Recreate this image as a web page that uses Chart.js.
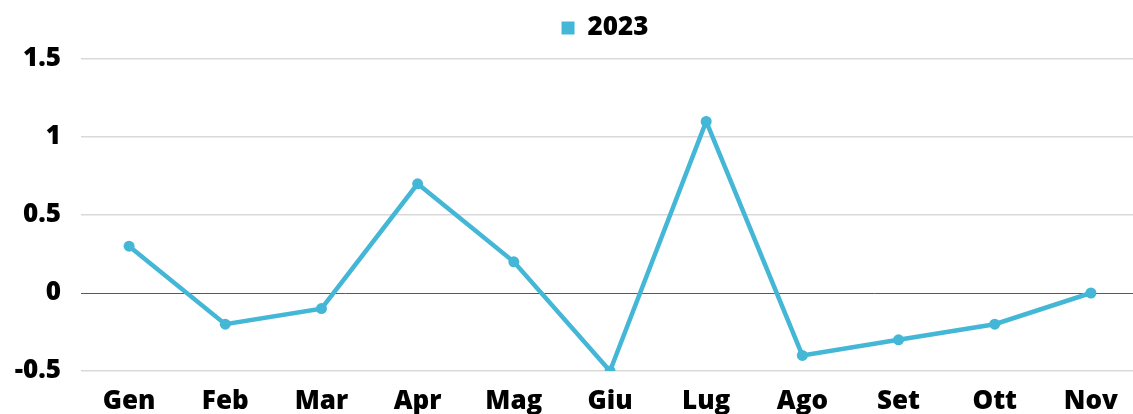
<!DOCTYPE html>
<html>
<head>
<meta charset="utf-8">
<script src="https://cdn.jsdelivr.net/npm/chart.js@4/dist/chart.umd.min.js"></script>
<style>
  html, body { margin: 0; padding: 0; background: #fff; overflow: hidden; }
  #wrap { width: 1210px; height: 414px; position: relative; }
</style>
</head>
<body>
<div id="wrap"><canvas id="chart"></canvas></div>
<script>
const months = ['Gen', 'Feb', 'Mar', 'Apr', 'Mag', 'Giu', 'Lug', 'Ago', 'Set', 'Ott', 'Nov'];
const values2023 = [0.3, -0.2, -0.1, 0.7, 0.2, -0.5, 1.1, -0.4, -0.3, -0.2, 0];
const seriesLabel = '2023';
const yMin = -0.5;
const yMax = 1.5;
const yStep = 0.5;

const lineColor = '#45B7D6';
const font = { family: '"Open Sans", sans-serif', size: 26, weight: 800 };

new Chart(document.getElementById('chart'), {
  type: 'line',
  data: {
    labels: months,
    datasets: [{
      label: seriesLabel,
      data: values2023,
      borderColor: lineColor,
      backgroundColor: lineColor,
      borderWidth: 4.5,
      pointRadius: 5.5,
      pointBackgroundColor: lineColor,
      pointBorderWidth: 0,
      tension: 0,
    }],
  },
  options: {
    responsive: true,
    maintainAspectRatio: false,
    animation: false,
    layout: { padding: { top: 5, right: 0, left: 0, bottom: 0 } },
    plugins: {
      tooltip: { enabled: false },
      // empty title only used as a spacer under the legend
      title: { display: true, text: ' ', font: { size: 8, lineHeight: 1 }, padding: 0 },
      legend: {
        position: 'top',
        weight: 3000,
        labels: {
          color: '#000',
          font,
          boxWidth: 13,
          boxHeight: 13,
          padding: 10,
          generateLabels(chart) {
            return chart.data.datasets.map((ds, i) => ({
              text: ds.label,
              fillStyle: ds.borderColor,
              strokeStyle: ds.borderColor,
              lineWidth: 0,
              hidden: false,
              datasetIndex: i,
              fontColor: '#000',
            }));
          },
        },
      },
    },
    scales: {
      x: {
        offset: true,
        grid: { display: false, drawTicks: false },
        border: { display: false },
        ticks: { color: '#000', font, padding: 15, maxRotation: 0 },
        afterFit(axis) { axis.height = 43; },
      },
      y: {
        min: yMin,
        max: yMax,
        border: { display: false },
        grid: {
          drawTicks: false,
          lineWidth(ctx) { return ctx.tick && ctx.tick.value === 0 ? 1 : 1.5; },
          color(ctx) { return ctx.tick && ctx.tick.value === 0 ? '#595959' : '#d9d9d9'; },
        },
        ticks: {
          stepSize: yStep,
          color: '#000',
          font,
          padding: 20,
          callback(v) { return String(v); },
        },
        afterFit(axis) { axis.width = 81; },
      },
      // blank right-hand axis: reserves the space that is cropped off in the original
      y2: {
        position: 'right',
        display: true,
        grid: { display: false },
        border: { display: false },
        ticks: { display: false },
        afterFit(axis) { axis.width = 71; },
      },
    },
  },
});
</script>
</body>
</html>
